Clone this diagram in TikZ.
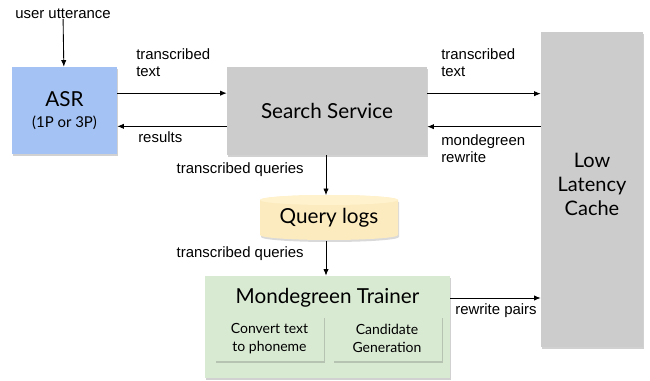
\documentclass[tikz,border=0pt]{standalone}
\usepackage{fontspec}
\setmainfont{Liberation Sans}
\newfontfamily\boxfont{Lato}
\usetikzlibrary{arrows.meta,shadows}

\definecolor{asrblue}{HTML}{A4C2F4}
\definecolor{servgray}{HTML}{CCCCCC}
\definecolor{logyellow}{HTML}{FFF2CC}
\definecolor{logbody}{HTML}{FCEBBF}
\definecolor{traingreen}{HTML}{D9EAD3}

\begin{document}
\begin{tikzpicture}[x=0.75pt, y=-0.75pt,
        block/.style={rectangle, inner sep=2pt, align=center, font=\boxfont\fontsize{15.5}{18}\selectfont,
                drop shadow={shadow xshift=0.8pt, shadow yshift=-1.2pt, opacity=0.3, fill=black!60}},
        sub/.style={block, fill=traingreen, font=\boxfont\fontsize{10.5}{13}\selectfont,
                minimum width=81.75pt, minimum height=33.75pt},
        lbl/.style={font=\fontsize{11.2}{13}\selectfont, align=left, inner sep=0pt},
        flow/.style={-{Latex[length=5pt, width=4pt]}, line width=0.65pt}]
        \useasboundingbox (0,0) rectangle (650,381);

        \node[lbl] (utt) at (63,14) {user utterance};
        \node[block, fill=asrblue, minimum width=78.75pt, minimum height=65.25pt] (asr) at (64.5,110.5)
                {ASR\\[-2pt]{\fontsize{11.2}{13}\selectfont(1P or 3P)}};
        \node[block, fill=servgray, minimum width=150pt, minimum height=66pt] (search) at (327,111) {Search Service};
        \node[block, fill=servgray, minimum width=76.5pt, minimum height=236.25pt, font=\boxfont\fontsize{15}{18}\selectfont]
                (cache) at (592,189.5) {Low\\Latency\\Cache\\[-10pt]};

        \fill[black, opacity=0.15] (261,202) -- (261,237) arc[start angle=180, end angle=360, x radius=51.75pt, y radius=3.75pt]
                -- (399,202) -- cycle;
        \fill[logbody] (260,200) -- (260,235) arc[start angle=180, end angle=360, x radius=51.75pt, y radius=3.75pt]
                -- (398,200) arc[start angle=0, end angle=180, x radius=51.75pt, y radius=3.75pt] -- cycle;
        \fill[logyellow] (329,200) ellipse[x radius=51.75pt, y radius=3.75pt];
        \node[font=\boxfont\fontsize{15.5}{18}\selectfont, minimum width=103.5pt, minimum height=33.75pt, inner sep=0pt]
                (logs) at (329,218) {Query logs};

        \node[block, fill=traingreen, minimum width=183.75pt, minimum height=76.5pt] (trainer) at (327.5,327) {};
        \node[font=\boxfont\fontsize{15.5}{18}\selectfont] (title) at (327.5,298) {Mondegreen Trainer};
        \node[sub] (phon) at (269.5,338.5) {Convert text\\to phoneme};
        \node[sub] (cand) at (387,338.5) {Candidate\\Generation};

        \draw[flow] (utt) -- (asr);
        \draw[flow] ([yshift=13pt]asr.east) -- ([yshift=13pt]asr.east -| search.west);
        \draw[flow] ([yshift=-11.5pt]search.west) -- ([yshift=-11.5pt]search.west -| asr.east);
        \draw[flow] ([yshift=13pt]search.east) -- ([yshift=13pt]search.east -| cache.west);
        \draw[flow] ([yshift=13pt]search.east -| cache.west) ++(0,33) coordinate (rw) -- (rw -| search.east);
        \draw[flow] (search.south -| logs.north) ++(-3,0) coordinate (q1) -- (q1 |- logs.north);
        \draw[flow] (logs.south) ++(-3,0) coordinate (q2) -- (q2 |- trainer.north);
        \draw[flow] (trainer.east |- title) -- (title -| cache.west);

        \node[lbl, anchor=north west] at (136,48) {transcribed\\text};
        \node[lbl, anchor=north west] at (138,131) {results};
        \node[lbl, anchor=north west] at (441,48) {transcribed\\text};
        \node[lbl, anchor=north west] at (441,134) {mondegreen\\rewrite};
        \node[lbl, anchor=east] at (304,170) {transcribed queries};
        \node[lbl, anchor=east] at (304,254) {transcribed queries};
        \node[lbl, anchor=north] at (496,303) {rewrite pairs};
\end{tikzpicture}
\end{document}
